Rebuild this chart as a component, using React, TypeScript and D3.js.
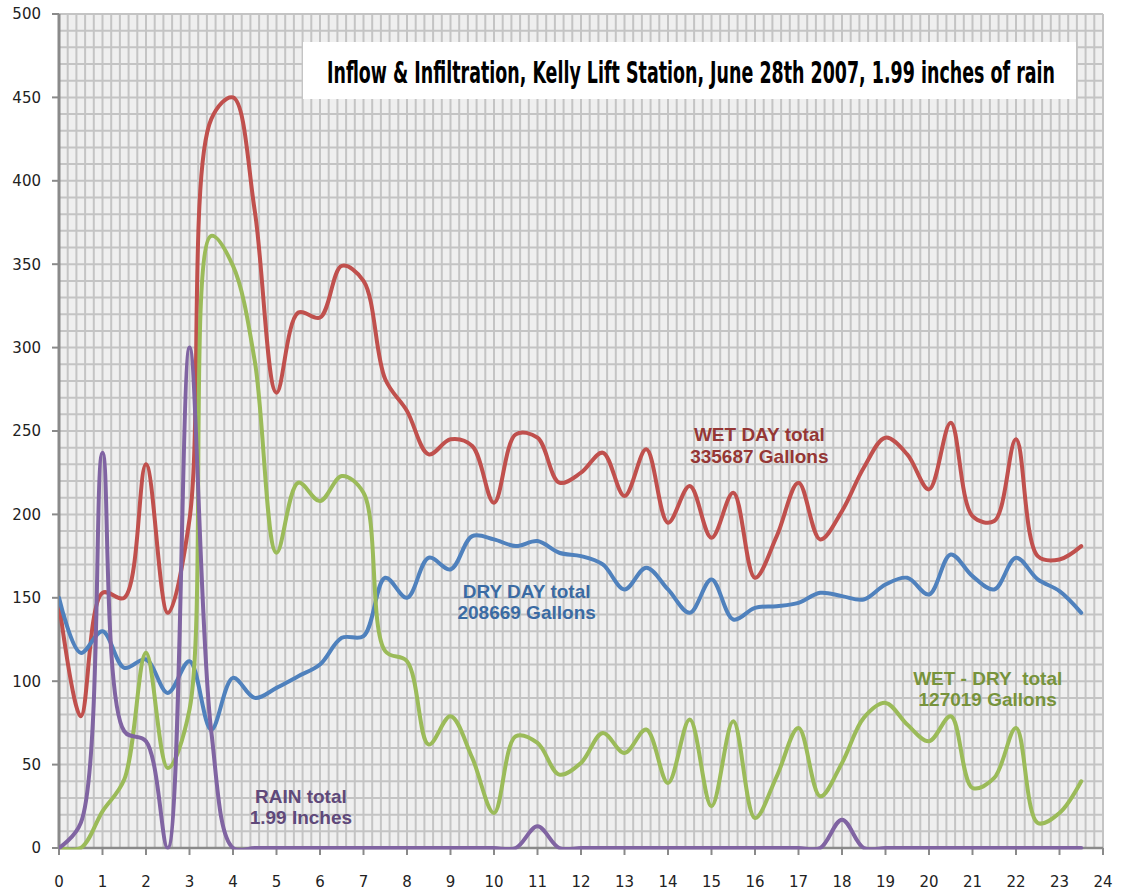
import React, { useEffect, useRef } from 'react';
import * as d3 from 'd3';

// half-hour samples, hours after midnight
const HOURS = d3.range(0, 24, 0.5);

const WET_DAY = [147, 79, 153, 150, 230, 141, 197, 437, 450, 382, 273, 321, 318, 349, 340, 281, 262, 236, 245, 241, 207, 248, 246, 219,
  225, 237, 211, 239, 195, 217, 186, 213, 162, 187, 219, 185, 202, 228, 246, 236, 215, 255, 199, 196, 245, 175, 173, 181];
const DRY_DAY = [150, 117, 130, 108, 113, 93, 112, 71, 102, 90, 96, 103, 110, 126, 127, 162, 150, 174, 167, 187, 185, 181, 184, 177,
  175, 170, 155, 168, 155, 141, 161, 137, 144, 145, 147, 153, 151, 149, 158, 162, 152, 176, 163, 155, 174, 161, 154, 141];
const WET_MINUS_DRY = [0, 0, 22, 41, 117, 48, 83, 367, 349, 292, 177, 219, 208, 223, 213, 118, 112, 62, 79, 54, 21, 67, 63, 44,
  51, 69, 57, 71, 39, 77, 25, 76, 18, 43, 72, 31, 51, 78, 87, 74, 64, 79, 36, 42, 72, 15, 21, 40];
const RAIN = [0, 15, 237, 70, 64, 0, 300, 70, 0, 0, 0, 0, 0, 0, 0, 0, 0, 0, 0, 0, 0, 0, 13, 0,
  0, 0, 0, 0, 0, 0, 0, 0, 0, 0, 0, 0, 17, 0, 0, 0, 0, 0, 0, 0, 0, 0, 0, 0];

const X_TICKS = d3.range(0, 25, 1);
const Y_TICKS = [0, 50, 100, 150, 200, 250, 300, 350, 400, 450, 500];

const TITLE = 'Inflow & Infiltration, Kelly Lift Station, June 28th 2007, 1.99 inches of rain';

const SERIES = [
  { name: 'wet', values: WET_DAY, color: '#c0504d' },
  { name: 'dry', values: DRY_DAY, color: '#4f81bd' },
  { name: 'diff', values: WET_MINUS_DRY, color: '#9bbb59' },
  { name: 'rain', values: RAIN, color: '#8064a2' },
];

const LABELS = [
  { lines: ['WET DAY total', '335687 Gallons'], h: 16.1, v: 244, color: '#953735' },
  { lines: ['DRY DAY total', '208669 Gallons'], h: 10.75, v: 150, color: '#3b6ba3' },
  { lines: ['WET - DRY\u00a0\u00a0total', '127019 Gallons'], h: 21.35, v: 98, color: '#77933c' },
  { lines: ['RAIN total', '1.99 Inches'], h: 5.56, v: 27, color: '#5f497a' },
];

const App: React.FC = () => {
  const svgRef = useRef<SVGSVGElement>(null);

  useEffect(() => {
    if (!svgRef.current) return;
    document.body.style.margin = '0';

    const width = 1126;
    const height = 891;
    const margin = { top: 14, right: 23, bottom: 43, left: 59 };

    const svg = d3.select(svgRef.current);
    svg.selectAll('*').remove();
    svg.attr('width', width).attr('height', height);

    const x = d3.scaleLinear().domain([0, 24]).range([margin.left, width - margin.right]);
    const y = d3.scaleLinear().domain([0, 500]).range([height - margin.bottom, margin.top]);

    svg.append('rect').attr('width', width).attr('height', height).attr('fill', '#ffffff');

    // plot area background
    svg.append('rect')
      .attr('x', x(0)).attr('y', y(500))
      .attr('width', x(24) - x(0)).attr('height', y(0) - y(500))
      .attr('fill', '#efefef');

    // dense grid
    const grid = svg.append('g').attr('stroke', '#c4c4c4').attr('stroke-width', 2);
    grid.selectAll('line.v')
      .data(d3.range(0, 24.001, 0.2))
      .enter().append('line')
      .attr('x1', d => x(d)).attr('x2', d => x(d))
      .attr('y1', y(0)).attr('y2', y(500));
    grid.selectAll('line.h')
      .data(d3.range(10, 501, 10))
      .enter().append('line')
      .attr('x1', x(0)).attr('x2', x(24))
      .attr('y1', d => y(d)).attr('y2', d => y(d));

    // axes
    const axisColor = '#8a8a8a';
    svg.append('line')
      .attr('x1', x(0)).attr('x2', x(24)).attr('y1', y(0)).attr('y2', y(0))
      .attr('stroke', axisColor).attr('stroke-width', 2.5);
    svg.append('line')
      .attr('x1', x(0)).attr('x2', x(0)).attr('y1', y(0) + 1).attr('y2', y(500))
      .attr('stroke', axisColor).attr('stroke-width', 3);

    svg.append('g').selectAll('line')
      .data(X_TICKS).enter().append('line')
      .attr('x1', d => x(d)).attr('x2', d => x(d))
      .attr('y1', y(0)).attr('y2', y(0) + 7)
      .attr('stroke', axisColor).attr('stroke-width', 2);
    svg.append('g').selectAll('line')
      .data(Y_TICKS).enter().append('line')
      .attr('x1', x(0) - 7).attr('x2', x(0))
      .attr('y1', d => y(d)).attr('y2', d => y(d))
      .attr('stroke', axisColor).attr('stroke-width', 2);

    svg.append('g').selectAll('text')
      .data(X_TICKS).enter().append('text')
      .attr('x', d => x(d)).attr('y', y(0) + 39)
      .attr('text-anchor', 'middle')
      .style('font-family', '"DejaVu Sans", Verdana, sans-serif')
      .style('font-size', '15px')
      .attr('fill', '#222')
      .text(d => d);
    svg.append('g').selectAll('text')
      .data(Y_TICKS).enter().append('text')
      .attr('x', x(0) - 18).attr('y', d => y(d))
      .attr('dy', '0.36em')
      .attr('text-anchor', 'end')
      .style('font-family', '"DejaVu Sans", Verdana, sans-serif')
      .style('font-size', '15px')
      .attr('fill', '#222')
      .text(d => d);

    // clip lines to plot area (smoothing dips below zero get hidden like in Excel)
    svg.append('clipPath').attr('id', 'plotClip')
      .append('rect')
      .attr('x', x(0)).attr('y', y(500) - 4)
      .attr('width', x(24) - x(0) + 4).attr('height', y(0) - y(500) + 5.5);

    const line = d3.line<number>()
      .x((_, i) => x(HOURS[i]))
      .y(d => y(d))
      .curve(d3.curveCatmullRom.alpha(0.5));

    svg.append('g').attr('clip-path', 'url(#plotClip)')
      .selectAll('path')
      .data(SERIES)
      .enter().append('path')
      .attr('d', d => line(d.values))
      .attr('fill', 'none')
      .attr('stroke', d => d.color)
      .attr('stroke-width', 4)
      .attr('stroke-linejoin', 'round')
      .attr('stroke-linecap', 'round');

    // series annotations
    const labels = svg.append('g')
      .style('font-family', '"Liberation Sans", Arial, sans-serif')
      .style('font-size', '19px')
      .style('font-weight', 'bold');
    LABELS.forEach(l => {
      l.lines.forEach((t, k) => {
        labels.append('text')
          .attr('x', x(l.h)).attr('y', y(l.v) + k * 21.5)
          .attr('text-anchor', 'middle')
          .attr('fill', l.color)
          .text(t);
      });
    });

    // title box
    svg.append('rect')
      .attr('x', 303).attr('y', 42).attr('width', 773).attr('height', 57)
      .attr('fill', '#ffffff');
    const titleWidth = 728;
    const title = svg.append('text')
      .attr('x', 0).attr('y', 0)
      .style('font-family', '"Liberation Sans Narrow", "DejaVu Sans Condensed", sans-serif')
      .style('font-size', '31px')
      .style('font-weight', 'bold')
      .attr('fill', '#000')
      .text(TITLE);
    const natural = (title.node() as SVGTextElement).getComputedTextLength() || titleWidth;
    title.attr('transform', `translate(327,83) scale(${titleWidth / natural},1)`);
  }, []);

  return <svg ref={svgRef} style={{ display: 'block' }}></svg>;
};

export default App;
